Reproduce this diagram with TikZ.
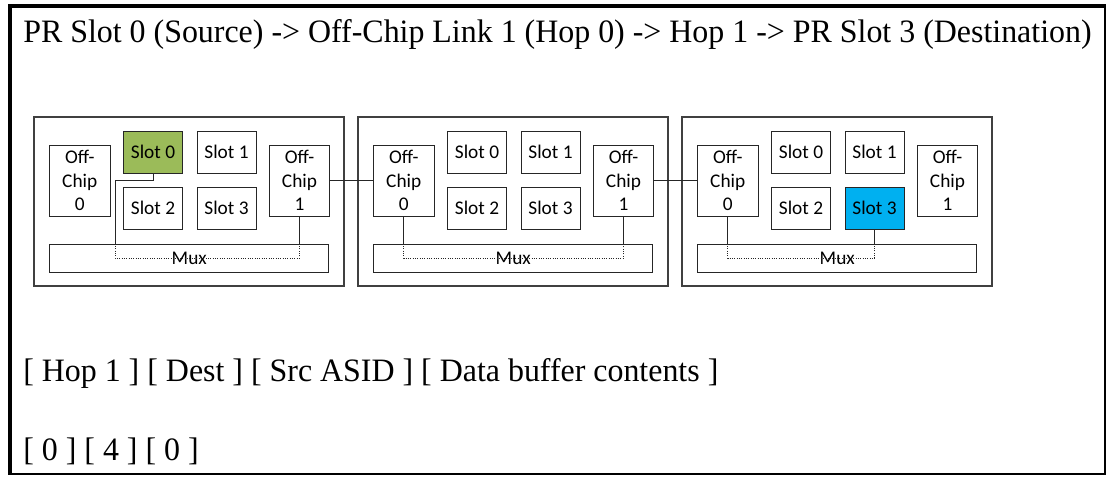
\documentclass[tikz,border=0pt]{standalone}
\usepackage{graphicx}
\usepackage{fontspec}
\setmainfont{Liberation Serif}
\newfontfamily\boxfont{Carlito}
\newcommand\boxtext{\boxfont\fontsize{14.5pt}{17.5pt}\selectfont}
\newcommand\headtext{\fontsize{24.5pt}{29pt}\selectfont}
\definecolor{slotgreen}{HTML}{9BBB59}
\definecolor{slotblue}{HTML}{00B0F0}
\definecolor{panelgray}{HTML}{404040}
\definecolor{boxline}{HTML}{262626}
\tikzset{
  panelbox/.style={draw=panelgray, line width=0.9pt, minimum width=232.5pt, minimum height=126.75pt, inner sep=0pt},
  unitbox/.style={draw=boxline, line width=0.75pt, inner sep=0pt, align=center, font=\boxtext, text=black},
  chipbox/.style={unitbox, minimum width=45.4pt, minimum height=53.25pt},
  slotbox/.style={unitbox, minimum width=44.25pt, minimum height=31.5pt},
  muxbox/.style={unitbox, minimum width=209.6pt, minimum height=21pt},
  link/.style={draw=boxline, line width=0.75pt},
  muxpath/.style={link, densely dotted},
  caption/.style={anchor=base west, inner sep=0pt, font=\headtext}
}
\begin{document}
\begin{tikzpicture}[x=0.75pt, y=-0.75pt]
\useasboundingbox (0,0) rectangle (1107,476);
% page frame: heavier left and top edges
\fill[black] (8,4) rectangle (12,474.7);
\fill[black] (8,4) rectangle (1106.3,8);
\fill[black] (1104.3,4) rectangle (1106.3,474.7);
\fill[black] (8,472.7) rectangle (1106.3,474.7);

% route description and packet header
\node[caption] (route) at (23,42.3) {\scalebox{0.977}[1]{PR Slot 0 (Source) -> Off-Chip Link 1 (Hop 0) -> Hop 1 -> PR Slot 3 (Destination)}};
\node[caption] (fields) at (23,381) {\scalebox{0.977}[1]{[ Hop 1 ] [ Dest ] [ Src ASID ] [ Data buffer contents ]}};
\node[caption] (values) at (23,460) {\scalebox{0.977}[1]{[ 0 ] [ 4 ] [ 0 ]}};

% three FPGA chips, each with two off-chip links, four PR slots and a mux
\foreach \k/\x/\fa/\fd in {1/34/slotgreen/white, 2/358/white/white, 3/682/white/slotblue}{
  \node[panelbox] (p\k) at (\x+155,201.5) {};
  \node[chipbox] (p\k oc0) at (\x+45.75,180.5) {Off-\\Chip\\0};
  \node[slotbox, fill=\fa] (p\k s0) at (\x+119,152) {Slot 0};
  \node[slotbox] (p\k s1) at (\x+192.5,152) {Slot 1};
  \node[slotbox] (p\k s2) at (\x+119,208) {Slot 2};
  \node[slotbox, fill=\fd] (p\k s3) at (\x+192.5,208) {Slot 3};
  \node[chipbox] (p\k oc1) at (\x+265.5,180.5) {Off-\\Chip\\1};
  \node[muxbox] (p\k mux) at (\x+155.25,258) {Mux};
}

% chip-to-chip links
\draw[link] (p1oc1.east) -- (p2oc0.east -| p2oc0.west);
\draw[link] (p2oc1.east) -- (p3oc0.west);

% chip 1: slot 0 through the mux to off-chip link 1
\coordinate (p1bend) at (115,180);
\draw[link] (p1s0.south) |- (p1bend) -- (p1bend |- p1mux.north);
\draw[muxpath] (p1bend |- p1mux.north) |- (p1oc1.south |- p1mux.center) -- (p1oc1.south |- p1mux.north);
\draw[link] (p1oc1.south |- p1mux.north) -- (p1oc1.south);

% chip 2: off-chip link 0 through the mux to off-chip link 1
\draw[link] (p2oc0.south) -- (p2oc0.south |- p2mux.north);
\draw[muxpath] (p2oc0.south |- p2mux.north) |- (p2oc1.south |- p2mux.center) -- (p2oc1.south |- p2mux.north);
\draw[link] (p2oc1.south |- p2mux.north) -- (p2oc1.south);

% chip 3: off-chip link 0 through the mux to slot 3
\draw[link] (p3oc0.south) -- (p3oc0.south |- p3mux.north);
\draw[muxpath] (p3oc0.south |- p3mux.north) |- (p3s3.south |- p3mux.center) -- (p3s3.south |- p3mux.north);
\draw[link] (p3s3.south |- p3mux.north) -- (p3s3.south);
\end{tikzpicture}
\end{document}
